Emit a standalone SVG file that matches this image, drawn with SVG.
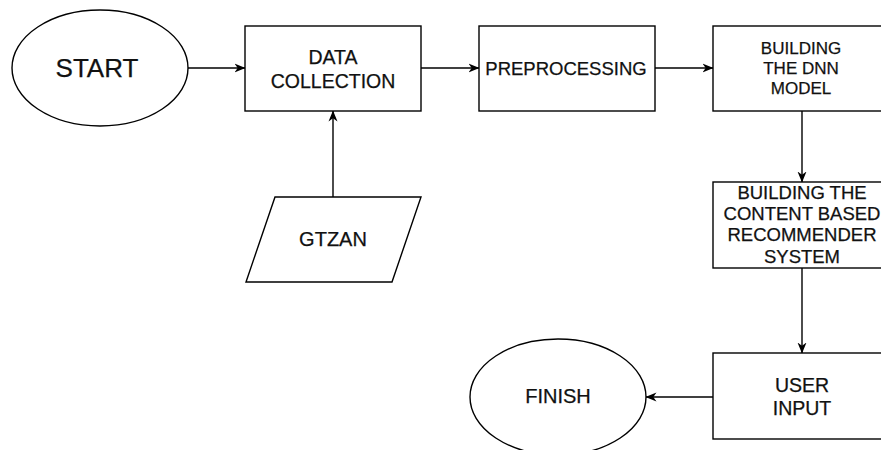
<svg xmlns="http://www.w3.org/2000/svg" width="881" height="450" viewBox="0 0 881 450">
  <defs>
    <marker id="arrow" viewBox="0 0 11 10" refX="10.5" refY="5" markerWidth="11" markerHeight="10" markerUnits="userSpaceOnUse" orient="auto">
      <path d="M0,0.5 L11,5 L0,9.5 L3.2,5 z" fill="#000"/>
    </marker>
  </defs>
  <style>
    .shape { fill: #fff; stroke: #000; stroke-width: 1.4; }
    .edge { fill: none; stroke: #000; stroke-width: 1.4; marker-end: url(#arrow); }
    text { font-family: "Liberation Sans", Arial, Helvetica, sans-serif; fill: #111; stroke: #111; stroke-width: 0.25; text-anchor: middle; dominant-baseline: central; }
  </style>
  <rect width="881" height="450" fill="#fff"/>

  <g id="connectors">
    <line class="edge" x1="188" y1="68" x2="245" y2="68"/>
    <line class="edge" x1="421" y1="68" x2="479" y2="68"/>
    <line class="edge" x1="655" y1="68" x2="713" y2="68"/>
    <line class="edge" x1="333" y1="197" x2="333" y2="111"/>
    <line class="edge" x1="802" y1="111" x2="802" y2="182"/>
    <line class="edge" x1="802" y1="268" x2="802" y2="353"/>
    <line class="edge" x1="713" y1="397" x2="646" y2="397"/>
  </g>

  <g id="start">
    <ellipse class="shape" cx="100" cy="68" rx="88" ry="58"/>
    <text x="97" y="68" font-size="26">START</text>
  </g>

  <g id="data-collection">
    <rect class="shape" x="245" y="26" width="176" height="85"/>
    <text x="333" y="57" font-size="19.5">DATA</text>
    <text x="333" y="81" font-size="19.5">COLLECTION</text>
  </g>

  <g id="preprocessing">
    <rect class="shape" x="479" y="26" width="176" height="85"/>
    <text x="566" y="68" font-size="18.5">PREPROCESSING</text>
  </g>

  <g id="dnn-model">
    <rect class="shape" x="713" y="26" width="176" height="85"/>
    <text x="801" y="48" font-size="17">BUILDING</text>
    <text x="801" y="68" font-size="17">THE DNN</text>
    <text x="801" y="88" font-size="17">MODEL</text>
  </g>

  <g id="recommender">
    <rect class="shape" x="713" y="182" width="176" height="86"/>
    <text x="802" y="192" font-size="18.5">BUILDING THE</text>
    <text x="802" y="213" font-size="18.5">CONTENT BASED</text>
    <text x="802" y="234" font-size="18.5">RECOMMENDER</text>
    <text x="802" y="256" font-size="18.5">SYSTEM</text>
  </g>

  <g id="user-input">
    <rect class="shape" x="713" y="353" width="176" height="86"/>
    <text x="802" y="385" font-size="19.5">USER</text>
    <text x="802" y="408" font-size="19.5">INPUT</text>
  </g>

  <g id="finish">
    <ellipse class="shape" cx="558" cy="397" rx="88" ry="58"/>
    <text x="558" y="396" font-size="20">FINISH</text>
  </g>

  <g id="gtzan">
    <polygon class="shape" points="275,197 421,197 392,282 246,282"/>
    <text x="333" y="239" font-size="20">GTZAN</text>
  </g>
</svg>
